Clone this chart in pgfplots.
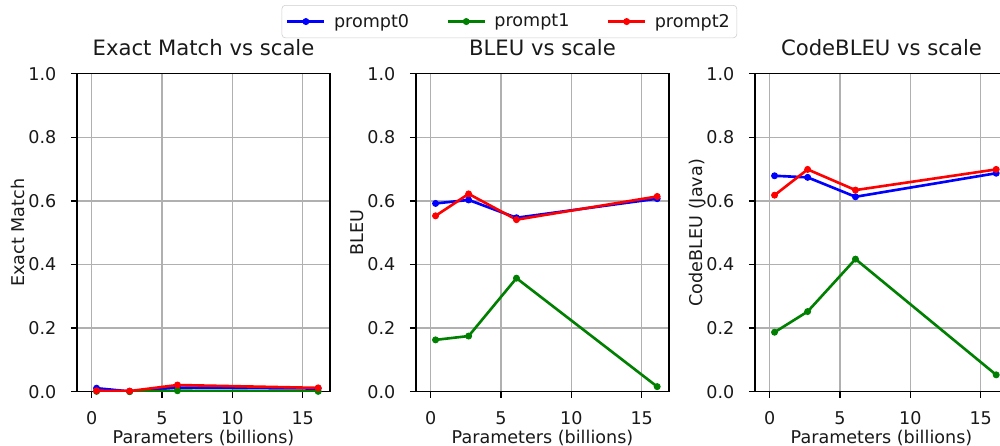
\documentclass[border=0pt]{standalone}
\usepackage{pgfplots}
\pgfplotsset{compat=1.18}
\usepackage{fontspec}
\setmainfont{DejaVu Sans}
\definecolor{mplgreen}{rgb}{0,0.5,0}
\definecolor{gridgray}{HTML}{B0B0B0}
\begin{document}
\begin{tikzpicture}
\pgfplotsset{
  myax/.style={
    scale only axis, width=2.53in, height=3.18in,
    xmin=-1.04, xmax=16.94, ymin=0, ymax=1,
    xtick={0,5,10,15}, ytick={0,0.2,0.4,0.6,0.8,1.0},
    yticklabel style={/pgf/number format/fixed,/pgf/number format/precision=1,/pgf/number format/fixed zerofill},
    /pgf/number format/assume math mode=true,
    grid=major, major grid style={color=gridgray, line width=1pt},
    axis line style={line width=1pt},
    tick style={black, line width=1pt}, tick align=outside, major tick length=4.4pt,
    xtick pos=lower, ytick pos=left,
    font=\fontsize{12.7}{15}\selectfont,
    ticklabel style={font=\fontsize{12.7}{15}\selectfont, text=black!90, inner sep=0pt},
    xticklabel style={anchor=base, yshift=-19.2pt},
    yticklabel style={anchor=east, xshift=-10.3pt},
    label style={font=\fontsize{12.7}{15}\selectfont, text=black!90},
    xlabel style={at={([yshift=-37.2pt]axis description cs:0.5,0)}, anchor=base},
    ylabel style={at={([xshift=-38pt]axis description cs:0,0.5)}, anchor=base},
    title style={font=\fontsize{15.3}{18}\selectfont, text=black!90, at={([yshift=7pt]axis description cs:0.5,1)}, anchor=base},
    xlabel={Parameters (billions)},
    every axis plot/.append style={line width=1.9pt, mark=*, mark size=2.2pt, mark options={line width=0.6pt}},
    legend image code/.code={
      \draw[mark repeat=2,mark phase=2] plot coordinates {(0in,0in) (0.185in,0in) (0.37in,0in)};
    },
  },
}
\begin{axis}[myax, at={(0.77in,0.543in)}, anchor=south west,
  title={Exact Match vs scale}, ylabel={Exact Match}]
\addplot[blue] coordinates {(0.35,0.011) (2.7,0.001) (6.1,0.013) (16.1,0.010)};
\addplot[mplgreen] coordinates {(0.35,0.001) (2.7,0.0) (6.1,0.003) (16.1,0.001)};
\addplot[red] coordinates {(0.35,0.003) (2.7,0.002) (6.1,0.021) (16.1,0.012)};
\end{axis}
\begin{axis}[myax, at={(4.16in,0.543in)}, anchor=south west,
  title={BLEU vs scale}, ylabel={BLEU},
  legend columns=3,
  legend style={at={(0.369,1.216)}, anchor=north, draw=black!20, rounded corners=2.5pt,
    font=\fontsize{12.7}{15}\selectfont, text=black!90, inner xsep=3pt, inner ysep=4.3pt,
    /tikz/every odd column/.append style={column sep=4pt},
    /tikz/every even column/.append style={column sep=25pt}},
  ]
\addplot[blue] coordinates {(0.35,0.592) (2.7,0.603) (6.1,0.547) (16.1,0.607)};
\addlegendentry{prompt0}
\addplot[mplgreen] coordinates {(0.35,0.163) (2.7,0.175) (6.1,0.357) (16.1,0.016)};
\addlegendentry{prompt1}
\addplot[red] coordinates {(0.35,0.553) (2.7,0.622) (6.1,0.541) (16.1,0.614)};
\addlegendentry{prompt2}
\end{axis}
\begin{axis}[myax, at={(7.55in,0.543in)}, anchor=south west,
  title={CodeBLEU vs scale}, ylabel={CodeBLEU (Java)}]
\addplot[blue] coordinates {(0.35,0.679) (2.7,0.674) (6.1,0.613) (16.1,0.687)};
\addplot[mplgreen] coordinates {(0.35,0.187) (2.7,0.252) (6.1,0.417) (16.1,0.053)};
\addplot[red] coordinates {(0.35,0.618) (2.7,0.699) (6.1,0.634) (16.1,0.699)};
\end{axis}
\pgfresetboundingbox
\useasboundingbox (0,0) rectangle (10in,4.46in);
\end{tikzpicture}
\end{document}
